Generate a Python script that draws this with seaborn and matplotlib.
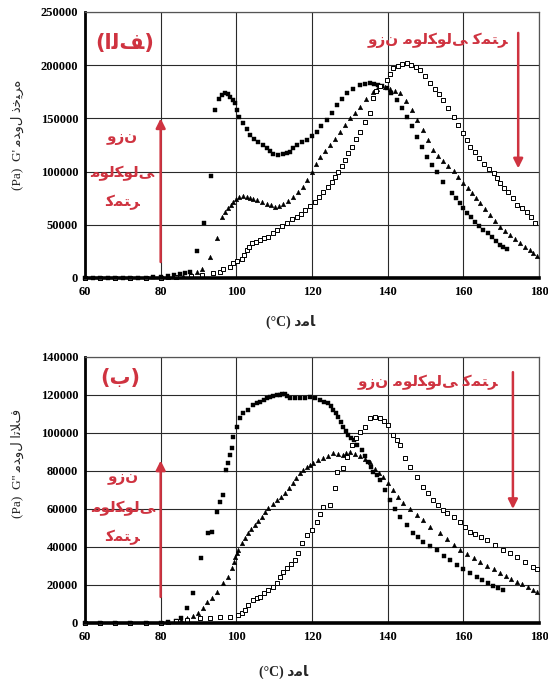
import matplotlib
matplotlib.use("Agg")
import matplotlib.pyplot as plt
import seaborn as sns
import pandas as pd

# ---------------- data ----------------
# Top panel: storage modulus G' (Pa) vs temperature (C)
top_fill_T = [60, 62, 64, 66, 68, 70, 72, 74, 76, 78, 80, 82, 83.5, 85, 86.4, 87.8, 89.5, 91.5, 93.2, 94.4,
              95.4, 96.2, 97, 97.7, 98.3, 99, 99.6, 100.2, 100.8, 101.8, 102.7, 103.6, 104.7, 105.8, 107, 108,
              109, 109.8, 111, 112.4, 113.3, 114.2, 115.1, 116, 117.3, 118.6, 119.9, 121.2, 122.5, 123.9,
              125.2, 126.5, 127.9, 129.2, 130.9, 132.7, 134, 135.3, 136.5, 137.5, 138.6, 139.7, 141, 142.4,
              143.7, 145, 146.3, 147.7, 149, 150.3, 151.7, 153, 154.7, 156.9, 158, 159.1, 160, 160.9, 162,
              163.1, 164.2, 165.3, 166.4, 167.5, 168.6, 169.7, 170.6, 171.5]
top_fill_G = [0, 0, 0, 0, 0, 0, 0, 0, 0, 500, 800, 1500, 2500, 3500, 4700, 5900, 25700, 52000, 96000, 158000,
              168000, 171500, 173600, 172500, 170000, 167000, 164000, 158000, 151600, 145700, 140000, 134400,
              131000, 128000, 125000, 122000, 119000, 116300, 116000, 116300, 117500, 118800, 122000, 125000,
              127500, 129700, 133500, 137500, 142500, 148500, 155500, 162600, 168500, 173600, 178000, 181400,
              182500, 183000, 182500, 181500, 180000, 178300, 173500, 167300, 160000, 151600, 142500, 132800,
              123500, 114000, 106000, 100000, 90500, 79600, 75000, 70200, 65500, 60800, 57000, 52900, 49000,
              45100, 42000, 38800, 35000, 31000, 29000, 27000]

top_tri_T = [60, 64, 68, 72, 76, 80, 82, 84, 86, 88, 89.5, 90.8, 93, 94.8, 96.1, 97, 97.9, 98.6, 99.2, 100,
             100.8, 101.7, 102.7, 103.5, 104.4, 105.4, 106.7, 108, 109.1, 110.2, 111.3, 112.4, 113.7, 115,
             116.4, 117.7, 118.8, 119.9, 121, 122.1, 123.5, 124.8, 126.1, 127.4, 128.7, 130, 131.4, 132.7,
             134.4, 136.2, 137.1, 138, 139.3, 140.6, 142, 143.3, 144.8, 146.3, 147.8, 149.4, 150.7, 152,
             153.3, 154.7, 156, 157.4, 158.7, 160, 161.1, 162.2, 163.3, 164.4, 165.7, 167, 168.3, 169.7, 171,
             172.3, 173.6, 175, 176.3, 177.6, 178.5, 179.4]
top_tri_G = [0, 0, 0, 0, 0, 0, 500, 1000, 2000, 3500, 5500, 8200, 20000, 37300, 57600, 62000, 65500, 69000,
             71700, 74500, 76400, 77000, 76400, 75500, 74500, 73300, 71500, 69600, 68200, 67000, 68000, 69600,
             72500, 76400, 81000, 85800, 92500, 99900, 107000, 114000, 119500, 125000, 131000, 137500, 144000,
             150100, 155500, 161000, 168000, 175100, 178000, 180000, 179500, 177500, 175500, 173600, 166000,
             158000, 148500, 139000, 129500, 120000, 115000, 109500, 105000, 101000, 95000, 89000, 84500,
             79600, 75000, 70200, 64500, 59200, 53500, 48200, 44000, 40400, 36500, 32600, 29500, 26300,
             23500, 20700]

top_open_T = [60, 64, 68, 72, 76, 80, 84, 88, 91, 93.9, 95.7, 96.6, 98.3, 99.2, 100.2, 101.4, 102.1, 102.7,
              103.4, 104.1, 105.2, 106.3, 107.4, 108.5, 109.6, 110.7, 112, 113.3, 114.6, 116, 117.1, 118.2,
              119.5, 120.8, 121.9, 123, 124.1, 125.2, 126.1, 127, 127.9, 128.7, 129.6, 130.5, 131.6, 132.7,
              134, 135.3, 136.2, 137, 138, 139.7, 140.6, 141.5, 142.6, 143.8, 145, 146.2, 147.4, 148.6,
              149.9, 151.2, 152.4, 153.6, 154.7, 156, 157.4, 158.7, 160, 160.9, 161.8, 163, 164.2, 165.5,
              166.8, 168, 168.9, 169.7, 170.8, 171.9, 173, 174.1, 175.5, 176.8, 177.9, 179]
top_open_G = [0, 0, 0, 0, 0, 0, 500, 1500, 3000, 4400, 5900, 8200, 10600, 13800, 15500, 17600, 22000, 26300,
              29500, 32600, 34200, 35700, 37300, 38800, 42000, 45100, 48500, 52000, 55000, 57600, 60500, 63900,
              67800, 71700, 76500, 81100, 85800, 90500, 95000, 99900, 105500, 110900, 117000, 123400, 130500,
              137500, 147000, 154800, 169000, 176000, 180000, 186100, 192000, 197100, 199500, 201000, 201800,
              200500, 198500, 195500, 189500, 183000, 177500, 172500, 167300, 159500, 151600, 143500, 136000,
              129500, 123400, 118000, 113000, 107000, 102500, 98400, 93500, 89000, 85000, 81100, 75000, 68600,
              65500, 62300, 57000, 51400]

# Bottom panel: loss modulus G'' (Pa) vs temperature (C)
bot_fill_T = [60, 64, 68, 72, 76, 80, 82, 84, 85.5, 86.9, 88.6, 90.6, 92.6, 93.5, 95, 95.7, 96.4, 97.3, 97.9,
              98.3, 98.8, 99.2, 100.1, 101, 101.8, 103.2, 104.5, 105.4, 106.3, 107.2, 108, 108.9, 109.8, 110.7,
              111.5, 112.2, 112.9, 113.5, 114.2, 115.5, 116.8, 118.1, 119.5, 120.8, 122.1, 123.2, 124.3, 125,
              125.6, 126.3, 127, 127.6, 128.3, 129, 129.6, 130.3, 131, 132, 133.1, 134, 134.9, 135.6, 136.2,
              137.1, 138, 139.3, 140.6, 142, 143.3, 145, 146.8, 148.1, 149.4, 151.2, 153, 154.8, 156.5, 158.3,
              160, 161.8, 163.5, 165, 166.5, 167.9, 169.2, 170.6]
bot_fill_G = [0, 0, 0, 0, 0, 0, 500, 1200, 2500, 7700, 16000, 34000, 47200, 48100, 58600, 63800, 67400, 80500,
              84000, 88400, 91900, 98100, 103300, 107700, 110400, 112100, 114700, 115600, 116500, 117500, 118300,
              119000, 119500, 119800, 120000, 120300, 120500, 119500, 118300, 118300, 118300, 118600, 118800,
              118200, 117400, 116500, 115600, 114000, 112100, 110300, 108600, 106000, 103300, 101000, 98900,
              97500, 96300, 93500, 91000, 88000, 84900, 82000, 79600, 78000, 75300, 70000, 64700, 60000, 55900,
              51500, 47200, 45000, 42800, 40500, 38400, 35500, 33000, 30500, 28500, 26400, 24400, 22700, 21000,
              19500, 18500, 17400]

bot_tri_T = [60, 64, 68, 72, 76, 80, 82, 84, 85.5, 86.9, 88.5, 90, 91.2, 92.2, 93.5, 95, 96.6, 97.9, 98.8, 99.3,
             99.7, 100.1, 100.5, 101.4, 102.3, 103.2, 104, 104.9, 105.8, 106.7, 107.6, 108.5, 109.6, 110.7,
             111.8, 112.9, 113.9, 115, 115.9, 116.8, 117.7, 118.6, 119.5, 120.3, 121.6, 123, 124.3, 125.6, 127,
             128.3, 129.1, 130, 131.4, 132.7, 134, 135.3, 136.6, 137.7, 138.8, 140.2, 141.5, 142.8, 144.1,
             145.9, 147.7, 149.4, 151.2, 153.8, 155.6, 157.4, 159.1, 160.9, 162.7, 164.4, 166.2, 168, 169.7,
             171.2, 172.7, 174.1, 175.6, 177.1, 178.5, 179.5]
bot_tri_G = [0, 0, 0, 0, 0, 0, 300, 800, 1500, 2500, 3500, 5100, 8000, 11200, 13000, 16500, 20900, 24400, 28800,
             32000, 34900, 36800, 38400, 41900, 44500, 47200, 49400, 51600, 53800, 55900, 58200, 60400, 62600,
             64700, 66500, 68300, 70900, 73500, 76200, 78800, 80400, 81900, 83200, 84400, 85600, 86700, 88000,
             89300, 88800, 88400, 89300, 90200, 89000, 87900, 86400, 84900, 81000, 79000, 77000, 73500, 70000,
             66500, 63000, 59900, 56800, 54200, 50700, 47200, 44200, 41300, 38400, 36300, 34300, 32300, 30200,
             28200, 26200, 24700, 23200, 21700, 20300, 18800, 17400, 16500]

bot_open_T = [60, 64, 68, 72, 76, 80, 84, 87, 90.4, 93, 95.7, 98.3, 100.5, 101.5, 102.3, 103.2, 104.5, 105.4,
              106.3, 107.4, 108.5, 109.6, 110.7, 111.5, 112.4, 113.3, 114.4, 115.5, 116.4, 117.3, 118.6, 119.9,
              121.2, 122.1, 123, 124.8, 126.1, 126.5, 128.1, 129.3, 130.5, 131.6, 132.7, 134, 135.3, 136.6, 138,
              139.1, 140.2, 141.5, 142.4, 143.3, 144.6, 146, 147.7, 149.4, 150.7, 152, 153.4, 154.7, 155.6,
              157.4, 159.1, 160.5, 161.8, 163.2, 164.7, 166.2, 168.4, 170.6, 172.3, 174.1, 176.3, 178.5, 179.5]
bot_open_G = [0, 0, 0, 0, 0, 0, 800, 1500, 2500, 2500, 3000, 3300, 4200, 5500, 6800, 9500, 12100, 13000, 13800,
              15600, 17400, 19100, 20900, 24400, 26600, 28800, 31000, 33200, 36700, 41900, 46300, 48900, 53300,
              57500, 61200, 62100, 70900, 79600, 81400, 87500, 93700, 97500, 100700, 103300, 107700, 108600,
              107700, 106500, 104200, 98900, 96300, 93700, 86700, 82300, 77000, 71700, 68200, 64700, 62000,
              59500, 57700, 55900, 53300, 50700, 48100, 46600, 45000, 43700, 41000, 38400, 36600, 34900, 32200,
              29600, 28500]

x_ticks = [60, 80, 100, 120, 140, 160, 180]
top_y_ticks = [0, 50000, 100000, 150000, 200000, 250000]
bot_y_ticks = [0, 20000, 40000, 60000, 80000, 100000, 120000, 140000]

# ---------------- Persian text: contextual (presentation) forms, logical order ----------------
FORMS = {
    'ا': ('\uFE8D', '\uFE8E', None, None),
    'ب': ('\uFE8F', '\uFE90', '\uFE91', '\uFE92'),
    'ت': ('\uFE95', '\uFE96', '\uFE97', '\uFE98'),
    'خ': ('\uFEA5', '\uFEA6', '\uFEA7', '\uFEA8'),
    'د': ('\uFEA9', '\uFEAA', None, None),
    'ذ': ('\uFEAB', '\uFEAC', None, None),
    'ر': ('\uFEAD', '\uFEAE', None, None),
    'ز': ('\uFEAF', '\uFEB0', None, None),
    'ف': ('\uFED1', '\uFED2', '\uFED3', '\uFED4'),
    'ل': ('\uFEDD', '\uFEDE', '\uFEDF', '\uFEE0'),
    'م': ('\uFEE1', '\uFEE2', '\uFEE3', '\uFEE4'),
    'ن': ('\uFEE5', '\uFEE6', '\uFEE7', '\uFEE8'),
    'ه': ('\uFEE9', '\uFEEA', '\uFEEB', '\uFEEC'),
    'و': ('\uFEED', '\uFEEE', None, None),
    'ک': ('\uFB8E', '\uFB8F', '\uFB90', '\uFB91'),
    'ی': ('\uFBFC', '\uFBFD', '\uFBFE', '\uFBFF'),
    'LA': ('\uFEFB', '\uFEFC', None, None),
}


def fa(text):
    toks = []
    i = 0
    while i < len(text):
        if text[i] == 'ل' and i + 1 < len(text) and text[i + 1] == 'ا':
            toks.append('LA')
            i += 2
        else:
            toks.append(text[i])
            i += 1
    out = []
    for k, t in enumerate(toks):
        if t not in FORMS:
            out.append(t)
            continue
        f = FORMS[t]
        prev = toks[k - 1] if k > 0 else None
        nxt = toks[k + 1] if k + 1 < len(toks) else None
        cp = prev in FORMS and FORMS[prev][2] is not None
        cn = f[2] is not None and nxt in FORMS
        if cp and cn:
            out.append(f[3])
        elif cp:
            out.append(f[1])
        elif cn:
            out.append(f[2])
        else:
            out.append(f[0])
    return ''.join(out)


# ---------------- figure ----------------
sns.set_theme(style="white")
plt.rcParams['font.family'] = ['Liberation Serif', 'DejaVu Sans']

RED = '#cf3340'
fig = plt.figure(figsize=(5.48, 6.79), dpi=100)
ax1 = fig.add_axes([0.1551, 0.5906, 0.8285, 0.3918])
ax2 = fig.add_axes([0.1551, 0.0825, 0.8285, 0.3918])


def draw_series(ax, fT, fG, tT, tG, oT, oG):
    sns.scatterplot(x=fT, y=fG, ax=ax, marker='s', color='black', s=12, edgecolor='black',
                    linewidth=0.3, zorder=4, clip_on=False)
    sns.scatterplot(x=tT, y=tG, ax=ax, marker='^', color='black', s=11, edgecolor='black',
                    linewidth=0.3, zorder=4, clip_on=False)
    sns.scatterplot(x=oT, y=oG, ax=ax, marker='s', color='white', s=11, edgecolor='black',
                    linewidth=0.7, zorder=4, clip_on=False)


def style_axes(ax, yticks):
    ax.set_xlim(60, 180)
    ax.set_ylim(yticks[0], yticks[-1])
    ax.set_xticks(x_ticks)
    ax.set_yticks(yticks)
    ax.set_xticklabels([str(v) for v in x_ticks])
    ax.set_yticklabels([str(v) for v in yticks])
    ax.grid(True, color='#2a2a2a', linewidth=0.8)
    ax.set_axisbelow(True)
    ax.tick_params(axis='both', length=0, labelsize=9, colors='black')
    ax.tick_params(axis='y', pad=5)
    ax.tick_params(axis='x', pad=6)
    for lab in ax.get_xticklabels() + ax.get_yticklabels():
        lab.set_fontweight('bold')
    for side in ['top', 'right']:
        ax.spines[side].set_color('#555555')
        ax.spines[side].set_linewidth(0.9)
    ax.spines['left'].set_color('black')
    ax.spines['left'].set_linewidth(2.0)
    ax.spines['bottom'].set_color('black')
    ax.spines['bottom'].set_linewidth(2.6)
    ax.spines['bottom'].set_zorder(5)


draw_series(ax1, top_fill_T, top_fill_G, top_tri_T, top_tri_G, top_open_T, top_open_G)
draw_series(ax2, bot_fill_T, bot_fill_G, bot_tri_T, bot_tri_G, bot_open_T, bot_open_G)
style_axes(ax1, top_y_ticks)
style_axes(ax2, bot_y_ticks)

# axis labels
ax1.set_xlabel('(°C) ' + fa('دما'), fontsize=10, fontweight='bold')
ax2.set_xlabel('(°C) ' + fa('دما'), fontsize=10, fontweight='bold')
ax1.xaxis.set_label_coords(0.454, -0.139)
ax2.xaxis.set_label_coords(0.438, -0.158)
ax1.set_ylabel("(Pa)  G' " + fa('مدول ذخیره'), fontsize=9.5)
ax2.set_ylabel("(Pa)  G'' " + fa('مدول اتلاف'), fontsize=9.5)
ax1.yaxis.set_label_coords(-0.135, 0.54)
ax2.yaxis.set_label_coords(-0.135, 0.60)

# annotations top
ax1.text(70.6, 220900, '(' + fa('الف') + ')', color=RED, fontsize=15, fontweight='bold',
         ha='center', va='center', family=['DejaVu Sans'])
for txt, yv in zip(['وزن', 'مولکولی', 'کمتر'], [131600, 98700, 71400]):
    ax1.text(69.8, yv, fa(txt), color=RED, fontsize=11, fontweight='bold', ha='center', va='center',
             family=['DejaVu Sans'])
ax1.annotate('', xy=(80, 150000), xytext=(80, 15000),
             arrowprops=dict(arrowstyle='-|>', color=RED, lw=1.8, mutation_scale=14, shrinkA=0, shrinkB=0))
ax1.text(171.8, 223700, fa('وزن مولکولی کمتر'), color=RED, fontsize=11, fontweight='bold',
         ha='right', va='center', family=['DejaVu Sans'])
ax1.annotate('', xy=(174.5, 103000), xytext=(174.5, 230300),
             arrowprops=dict(arrowstyle='-|>', color=RED, lw=1.8, mutation_scale=14, shrinkA=0, shrinkB=0))

# annotations bottom
ax2.text(69.3, 128900, '(' + fa('ب') + ')', color=RED, fontsize=15, fontweight='bold',
         ha='center', va='center', family=['DejaVu Sans'])
for txt, yv in zip(['وزن', 'مولکولی', 'کمتر'], [76800, 60500, 45200]):
    ax2.text(70, yv, fa(txt), color=RED, fontsize=11, fontweight='bold', ha='center', va='center',
             family=['DejaVu Sans'])
ax2.annotate('', xy=(80, 85500), xytext=(80, 13700),
             arrowprops=dict(arrowstyle='-|>', color=RED, lw=1.8, mutation_scale=14, shrinkA=0, shrinkB=0))
ax2.text(169.2, 126800, fa('وزن مولکولی کمتر'), color=RED, fontsize=11, fontweight='bold',
         ha='right', va='center', family=['DejaVu Sans'])
ax2.annotate('', xy=(173.1, 60000), xytext=(173.1, 132000),
             arrowprops=dict(arrowstyle='-|>', color=RED, lw=1.8, mutation_scale=14, shrinkA=0, shrinkB=0))

fig.savefig('out.png', dpi=100, facecolor='white')
